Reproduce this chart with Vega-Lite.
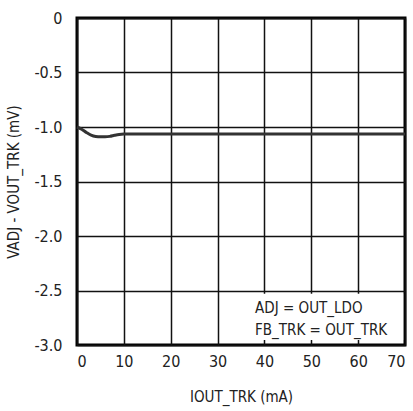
{
  "$schema": "https://vega.github.io/schema/vega-lite/v6.json",
  "width": 328,
  "height": 327,
  "autosize": {"type": "none"},
  "padding": {"left": 77, "top": 18, "right": 8, "bottom": 66},
  "background": "white",
  "config": {
    "font": "DejaVu Sans Condensed",
    "view": {"stroke": "#000", "strokeWidth": 3},
    "axis": {
      "domain": false,
      "ticks": false,
      "gridColor": "#111",
      "gridWidth": 1.5,
      "gridOpacity": 1,
      "labelFont": "DejaVu Sans Condensed",
      "labelFontSize": 16,
      "labelColor": "#222",
      "titleFont": "DejaVu Sans Condensed",
      "titleFontSize": 15,
      "titleFontWeight": "normal",
      "titleColor": "#222"
    }
  },
  "datasets": {
    "curve": [
      {"i": 0, "v": -1.0},
      {"i": 1, "v": -1.02},
      {"i": 2, "v": -1.05},
      {"i": 3, "v": -1.075},
      {"i": 4, "v": -1.087},
      {"i": 5, "v": -1.09},
      {"i": 6, "v": -1.09},
      {"i": 7, "v": -1.086},
      {"i": 8, "v": -1.076},
      {"i": 9, "v": -1.068},
      {"i": 10, "v": -1.065},
      {"i": 20, "v": -1.065},
      {"i": 30, "v": -1.065},
      {"i": 40, "v": -1.065},
      {"i": 50, "v": -1.065},
      {"i": 60, "v": -1.065},
      {"i": 70, "v": -1.065}
    ],
    "box": [{"x1": 36, "x2": 69.6, "y1": -2.53, "y2": -2.955}],
    "notes": [
      {"x": 38, "y": -2.66, "t": "ADJ = OUT_LDO"},
      {"x": 38, "y": -2.865, "t": "FB_TRK = OUT_TRK"}
    ]
  },
  "layer": [
    {
      "data": {"name": "curve"},
      "mark": {"type": "line", "color": "#333", "strokeWidth": 3, "interpolate": "monotone"},
      "encoding": {
        "x": {
          "field": "i", "type": "quantitative",
          "scale": {"domain": [0, 70], "nice": false},
          "axis": {"values": [0, 10, 20, 30, 40, 50, 60, 70], "labelPadding": 8, "title": "IOUT_TRK (mA)", "titlePadding": 20}
        },
        "y": {
          "field": "v", "type": "quantitative",
          "scale": {"domain": [-3, 0], "nice": false},
          "axis": {"values": [0, -0.5, -1, -1.5, -2, -2.5, -3], "labelExpr": "datum.value == 0 ? '0' : '-' + format(-datum.value, '.1f')", "labelPadding": 15, "title": "VADJ - VOUT_TRK (mV)", "titlePadding": 12}
        }
      }
    },
    {
      "data": {"name": "box"},
      "mark": {"type": "rect", "color": "white"},
      "encoding": {
        "x": {"field": "x1", "type": "quantitative"},
        "x2": {"field": "x2"},
        "y": {"field": "y1", "type": "quantitative"},
        "y2": {"field": "y2"}
      }
    },
    {
      "data": {"name": "notes"},
      "mark": {"type": "text", "align": "left", "baseline": "middle", "fontSize": 15, "color": "#222", "font": "DejaVu Sans Condensed"},
      "encoding": {
        "x": {"field": "x", "type": "quantitative"},
        "y": {"field": "y", "type": "quantitative"},
        "text": {"field": "t"}
      }
    }
  ]
}
